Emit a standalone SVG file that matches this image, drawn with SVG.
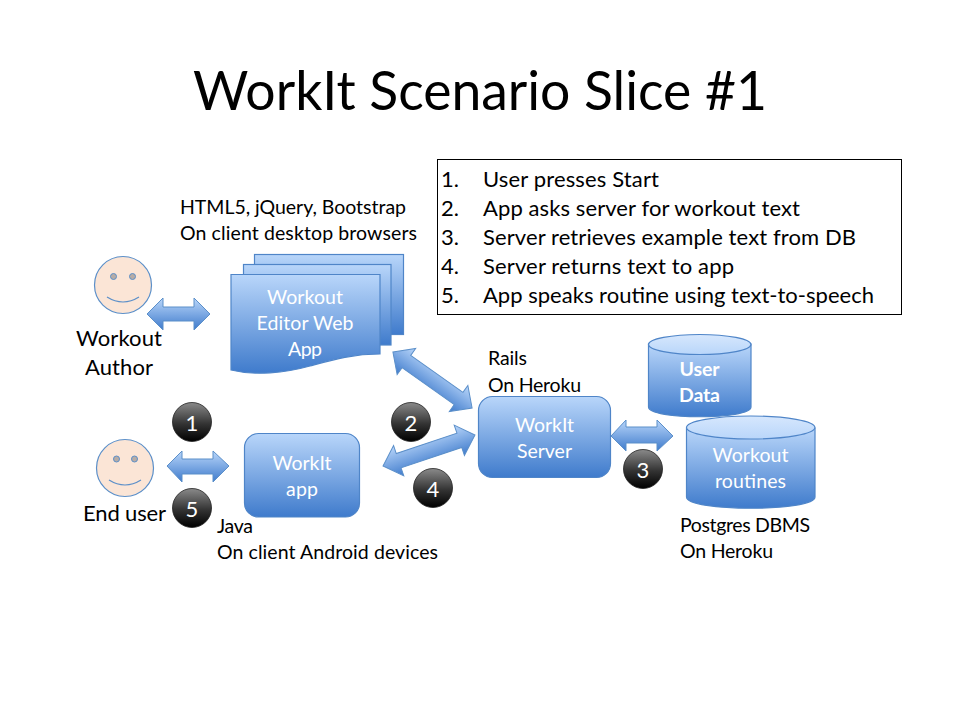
<svg xmlns="http://www.w3.org/2000/svg" width="960" height="720" viewBox="0 0 960 720">
<style>
text{font-family:"Lato","Liberation Sans",sans-serif;fill:#000}
.title{font-size:53.500px}
.lg{font-size:22px}
.eu{font-size:22px}
.md{font-size:19.500px}
.w{fill:#fff;font-size:19.500px;text-anchor:middle}
.n{fill:#fff;font-size:22px;text-anchor:middle}
.shape{fill:url(#blue);stroke:#4f85c8;stroke-width:1.2}
.top{fill:url(#lid);stroke:#4f85c8;stroke-width:1.2}
.badge{fill:url(#dark);stroke:#222;stroke-width:.8}
.face{fill:#fbe5d6;stroke:#5b8fc9;stroke-width:1.2}
.eye{fill:#b7aca6;stroke:#5b8fc9;stroke-width:1}
.smile{fill:none;stroke:#5b8fc9;stroke-width:1.2}
.arrow{fill:url(#blue);stroke:#5b8fc9;stroke-width:1}
</style>
<defs>
<linearGradient id="blue" x1="0" y1="0" x2="0" y2="1"><stop offset="0" stop-color="#b9d6fa"/><stop offset="1" stop-color="#3f7bcc"/></linearGradient>
<linearGradient id="lid" x1="0" y1="0" x2="0" y2="1"><stop offset="0" stop-color="#d6e7fd"/><stop offset="1" stop-color="#b9d6fa"/></linearGradient>
<linearGradient id="dark" x1="0" y1="0" x2="0" y2="1"><stop offset="0" stop-color="#8a8a8a"/><stop offset=".55" stop-color="#333"/><stop offset="1" stop-color="#000"/></linearGradient>
<polygon id="dbl" class="arrow" points="-48.500,0 -32,-16 -32,-7.500 32,-7.500 32,-16 48.500,0 32,16 32,7.500 -32,7.500 -32,16"/>
</defs>
<rect width="960" height="720" fill="#fff"/>
<text class="title" x="193" y="110" textLength="574">WorkIt Scenario Slice #1</text>
<g id="steps">
<rect x="437.500" y="159.500" width="464" height="155" fill="#fff" stroke="#000" stroke-width="1"/>
<g class="lg">
<text x="441" y="187">1.</text><text x="483" y="187" textLength="176">User presses Start</text>
<text x="441" y="216">2.</text><text x="483" y="216" textLength="317">App asks server for workout text</text>
<text x="441" y="245">3.</text><text x="483" y="245" textLength="373">Server retrieves example text from DB</text>
<text x="441" y="274">4.</text><text x="483" y="274" textLength="251">Server returns text to app</text>
<text x="441" y="303">5.</text><text x="483" y="303" textLength="391">App speaks routine using text-to-speech</text>
</g>
</g>
<g id="connectors">
<polygon class="arrow" points="147,314 163,298 163,307 194,307 194,298 210,314 194,330 194,321 163,321 163,330"/>
<polygon class="arrow" points="167,466 182,451 182,459 213,459 213,451 229,466 213,482 213,474 182,474 182,482"/>
<polygon class="arrow" points="611,436 626,420 626,427 657,427 657,420 673,436 657,451 657,443 626,443 626,451"/>
<use href="#dbl" transform="translate(432.500 380) rotate(35.300)"/>
<use href="#dbl" transform="translate(429 450.500) rotate(-18.600)"/>
</g>
<g id="author">
<circle class="face" cx="123" cy="285" r="28.500"/>
<circle class="eye" cx="113.500" cy="276.500" r="3"/><circle class="eye" cx="132.500" cy="276.500" r="3"/>
<path class="smile" d="M107 297 Q123 307 139 297"/>
<text class="lg" x="76" y="346" textLength="86">Workout</text>
<text class="lg" x="85" y="375" textLength="68">Author</text>
</g>
<g id="editor">
<rect class="shape" x="254.500" y="254.500" width="149" height="80"/>
<rect class="shape" x="243.500" y="264.500" width="147.500" height="80.500"/>
<path class="shape" d="M231 274.500 H380 V354 C352 354 332 360 310 366 C285 373 255 376 231 370 Z"/>
<text class="w" x="305" y="304" textLength="76">Workout</text>
<text class="w" x="305" y="330" textLength="97">Editor Web</text>
<text class="w" x="305" y="356" textLength="34">App</text>
<text class="md" x="180" y="214" textLength="226">HTML5, jQuery, Bootstrap</text>
<text class="md" x="180" y="240" textLength="237">On client desktop browsers</text>
</g>
<g id="enduser">
<circle class="face" cx="125" cy="468" r="28.500"/>
<circle class="eye" cx="116.500" cy="459" r="3"/><circle class="eye" cx="134.500" cy="459" r="3"/>
<path class="smile" d="M109 480 Q125 490 141 480"/>
<text class="eu" x="83" y="521" textLength="83">End user</text>
</g>
<g id="app">
<rect class="shape" x="244.500" y="433.500" width="115" height="83.500" rx="14"/>
<text class="w" x="302" y="470" textLength="59">WorkIt</text>
<text class="w" x="302" y="496" textLength="32">app</text>
<text class="md" x="217" y="533" textLength="36">Java</text>
<text class="md" x="217" y="559" textLength="221">On client Android devices</text>
</g>
<g id="server">
<rect class="shape" x="478.500" y="396.500" width="132" height="81" rx="14"/>
<text class="w" x="544.500" y="432" textLength="59">WorkIt</text>
<text class="w" x="544.500" y="458" textLength="55">Server</text>
<text class="md" x="488" y="365" textLength="39">Rails</text>
<text class="md" x="488" y="392" textLength="93">On Heroku</text>
</g>
<g id="userdata">
<path class="shape" d="M648.500 344 V407 C648.500 420 751 420 751 407 V344 Z"/>
<ellipse class="top" cx="699.700" cy="344.500" rx="51.200" ry="10"/>
<text class="w" x="699.500" y="376" font-weight="700" textLength="40">User</text>
<text class="w" x="699.500" y="402" font-weight="700" textLength="41">Data</text>
</g>
<g id="routines">
<path class="shape" d="M686.500 428 V497 C686.500 512 815 512 815 497 V428 Z"/>
<ellipse class="top" cx="750.700" cy="427.500" rx="64.200" ry="11.500"/>
<text class="w" x="750.500" y="462" textLength="76">Workout</text>
<text class="w" x="750.500" y="488" textLength="71">routines</text>
<text class="md" x="680" y="532" textLength="130">Postgres DBMS</text>
<text class="md" x="680" y="558" textLength="93">On Heroku</text>
</g>
<g id="badges">
<g id="badge1"><circle class="badge" cx="192" cy="422" r="19.500"/><text class="n" x="192" y="431">1</text></g>
<g id="badge2"><circle class="badge" cx="411" cy="422" r="19.500"/><text class="n" x="411" y="431">2</text></g>
<g id="badge3"><circle class="badge" cx="643" cy="469" r="19.500"/><text class="n" x="643" y="478">3</text></g>
<g id="badge4"><circle class="badge" cx="433" cy="488" r="19.500"/><text class="n" x="433" y="497">4</text></g>
<g id="badge5"><circle class="badge" cx="192" cy="508" r="19.500"/><text class="n" x="192" y="517">5</text></g>
</g>
</svg>
